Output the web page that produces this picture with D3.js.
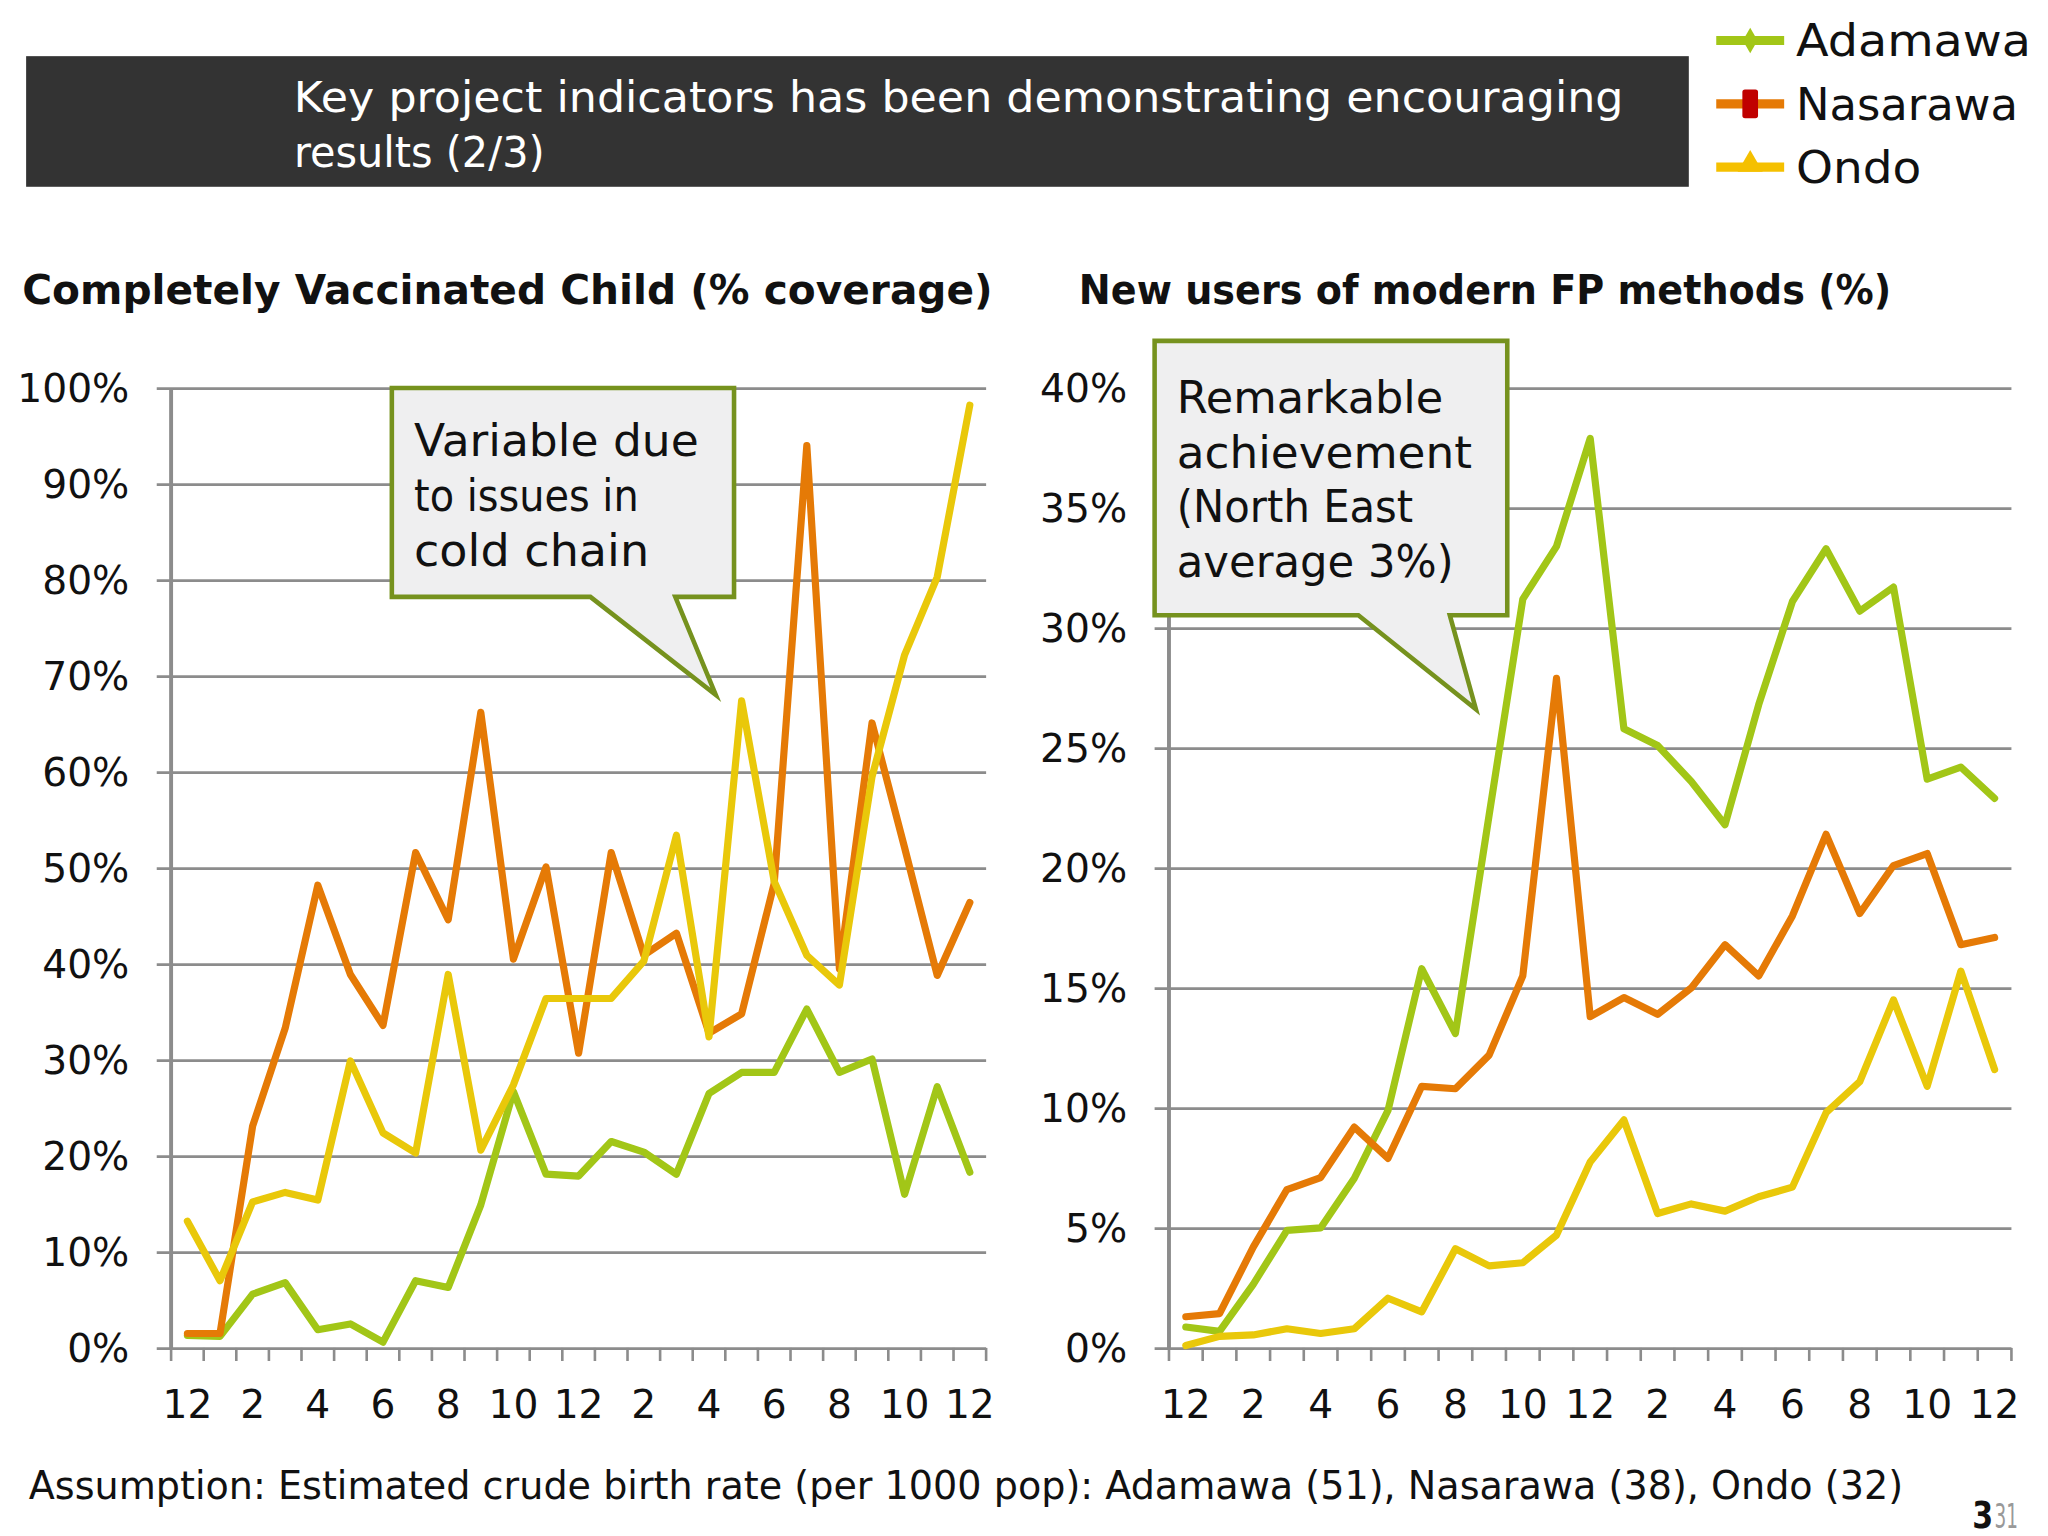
<!DOCTYPE html>
<html>
<head>
<meta charset="utf-8">
<script src="https://cdn.jsdelivr.net/npm/d3@7"></script>
<style>
  body { margin: 0; background: #fff; }
  svg { display: block; }
  text { font-family: "Century Gothic", "DejaVu Sans", sans-serif; }
</style>
</head>
<body>
<div id="chart"></div>
<script>
// month labels, Dec to Dec (25 months)
const months = ["12","1","2","3","4","5","6","7","8","9","10","11","12",
                "1","2","3","4","5","6","7","8","9","10","11","12"];
const shownTicks = [0,2,4,6,8,10,12,14,16,18,20,22,24];

const states = ["Adamawa", "Nasarawa", "Ondo"];
const stateColors = ["#a2c617", "#e57a06", "#e9c80a"];

// Completely Vaccinated Child (% coverage)
const vaccAdamawa = [1.3,1.2,5.6,6.8,1.9,2.5,0.6,7.0,6.3,14.9,26.7,18.1,17.9,
                     21.5,20.4,18.1,26.5,28.7,28.7,35.3,28.7,30.1,16.0,27.2,18.3];
const vaccNasarawa = [1.5,1.5,23.1,33.3,48.2,38.9,33.6,51.6,44.6,66.2,40.5,50.1,30.7,
                      51.6,40.9,43.2,32.8,34.8,48.4,94.0,39.5,65.1,52.1,38.8,46.4];
const vaccOndo = [13.2,7.0,15.2,16.2,15.4,29.9,22.4,20.3,38.9,20.6,27.4,36.4,36.4,
                  36.4,40.3,53.4,32.4,67.4,48.6,40.9,37.8,59.5,72.2,80.3,98.2];

// New users of modern FP methods (%)
const fpAdamawa = [0.87,0.69,2.65,4.9,5.0,7.07,9.9,15.8,13.1,22.2,31.2,33.4,37.9,
                   25.8,25.1,23.6,21.8,26.8,31.1,33.3,30.7,31.7,23.7,24.2,22.9];
const fpNasarawa = [1.3,1.43,4.2,6.6,7.1,9.2,7.9,10.9,10.8,12.2,15.5,27.9,13.8,
                    14.6,13.9,15.0,16.8,15.5,18.0,21.4,18.1,20.1,20.6,16.8,17.1];
const fpOndo = [0.1,0.48,0.54,0.8,0.6,0.8,2.07,1.5,4.13,3.42,3.55,4.7,7.75,
                9.5,5.6,6.0,5.7,6.3,6.7,9.8,11.1,14.5,10.9,15.7,11.6];

const vaccTicks = [0,10,20,30,40,50,60,70,80,90,100];
const fpTicks = [0,5,10,15,20,25,30,35,40];

const W = 1568, H = 1176;
const svg = d3.select("#chart").append("svg")
  .attr("width", 2048).attr("height", 1536)
  .attr("viewBox", `0 0 ${W} ${H}`);

svg.append("rect").attr("width", W).attr("height", H).attr("fill", "#fff");

// header bar
svg.append("rect").attr("x", 20).attr("y", 43).attr("width", 1273).attr("height", 100)
  .attr("fill", "#333333");
svg.append("text").attr("x", 225).attr("y", 86).attr("fill", "#fff")
  .attr("font-size", 33).attr("textLength", 1018).attr("lengthAdjust", "spacingAndGlyphs")
  .text("Key project indicators has been demonstrating encouraging");
svg.append("text").attr("x", 225).attr("y", 128).attr("fill", "#fff")
  .attr("font-size", 33).attr("textLength", 192).attr("lengthAdjust", "spacingAndGlyphs")
  .text("results (2/3)");

// legend
const legendWidths = [180, 170, 96];
const legend = svg.append("g");
states.forEach(function(s, i){
  let ly = 31 + i * 48.5;
  legend.append("line").attr("x1", 1314).attr("x2", 1366).attr("y1", ly).attr("y2", ly)
    .attr("stroke", i == 2 ? "#f5c000" : stateColors[i]).attr("stroke-width", 7);
  if (i == 0) {
    legend.append("path").attr("d", d3.symbol(d3.symbolDiamond, 110)())
      .attr("transform", `translate(1340,${ly})`).attr("fill", stateColors[0]);
  } else if (i == 1) {
    legend.append("rect").attr("x", 1334).attr("y", ly - 11).attr("width", 12).attr("height", 22)
      .attr("rx", 2).attr("fill", "#c00000");
  } else {
    legend.append("path").attr("d", d3.symbol(d3.symbolTriangle, 160)())
      .attr("transform", `translate(1340,${ly - 2})`).attr("fill", "#f5c000");
  }
  legend.append("text").attr("x", 1375).attr("y", ly + 12).attr("font-size", 34)
    .attr("fill", "#111").attr("textLength", legendWidths[i])
    .attr("lengthAdjust", "spacingAndGlyphs").text(s);
});

function drawChart(opts) {
  const g = svg.append("g");
  const x = d3.scaleBand().domain(d3.range(months.length)).range([opts.x0, opts.x1]);
  const y = d3.scaleLinear().domain([0, opts.max]).range([1032, 297]);

  g.append("text").attr("x", opts.titleX).attr("y", 233).attr("font-size", 31)
    .attr("font-weight", "bold").attr("fill", "#111")
    .attr("textLength", opts.titleW).attr("lengthAdjust", "spacingAndGlyphs")
    .text(opts.title);

  // gridlines + y labels
  const yAxis = g.append("g").attr("transform", `translate(${opts.x1},0)`)
    .call(d3.axisLeft(y).tickValues(opts.ticks).tickSize(opts.x1 - opts.x0 + 11)
      .tickPadding(21).tickFormat(d => d + "%"));
  yAxis.select(".domain").remove();
  yAxis.selectAll(".tick line").attr("stroke", "#8c8c8c").attr("stroke-width", 2);
  yAxis.selectAll(".tick text").attr("font-size", 30).attr("fill", "#111")
    .attr("font-family", "'Century Gothic','DejaVu Sans',sans-serif").attr("dy", "0.35em");

  // vertical axis line
  g.append("line").attr("x1", opts.x0).attr("x2", opts.x0).attr("y1", 297).attr("y2", 1032)
    .attr("stroke", "#8c8c8c").attr("stroke-width", 3);

  // minor ticks at category boundaries
  g.selectAll("line.mt").data(d3.range(months.length + 1)).join("line")
    .attr("class", "mt")
    .attr("x1", d => opts.x0 + d * x.step()).attr("x2", d => opts.x0 + d * x.step())
    .attr("y1", 1032).attr("y2", 1042)
    .attr("stroke", "#8c8c8c").attr("stroke-width", 2);

  // x labels
  const xAxis = g.append("g").attr("transform", "translate(0,1032)")
    .call(d3.axisBottom(x).tickValues(shownTicks).tickSize(0).tickPadding(32)
      .tickFormat(i => months[i]));
  xAxis.select(".domain").remove();
  xAxis.selectAll(".tick text").attr("font-size", 30).attr("fill", "#111")
    .attr("font-family", "'Century Gothic','DejaVu Sans',sans-serif");

  const line = d3.line()
    .x((d, i) => x(i) + x.bandwidth() / 2)
    .y(d => y(d));

  opts.series.forEach(function(s, i){
    g.append("path").datum(s).attr("d", line).attr("fill", "none")
      .attr("stroke", stateColors[i]).attr("stroke-width", 5.5)
      .attr("stroke-linejoin", "round").attr("stroke-linecap", "round");
  });

  // callout
  const c = opts.callout;
  const pts = [[c.x, c.y], [c.x + c.w, c.y], [c.x + c.w, c.y + c.h], [c.p2, c.y + c.h],
               [c.tip[0], c.tip[1]], [c.p1, c.y + c.h], [c.x, c.y + c.h]];
  g.append("path").attr("d", d3.line()(pts) + "Z")
    .attr("fill", "#efeff0").attr("stroke", "#76921e").attr("stroke-width", 3.5)
    .attr("stroke-linejoin", "miter");
  c.lines.forEach(function(t, k){
    g.append("text").attr("x", c.x + 17).attr("y", c.y + c.firstBase + k * 42)
      .attr("font-size", 34).attr("fill", "#111")
      .attr("textLength", c.widths[k]).attr("lengthAdjust", "spacingAndGlyphs").text(t);
  });
}

drawChart({
  x0: 131, x1: 755, max: 100, ticks: vaccTicks,
  title: "Completely Vaccinated Child (% coverage)", titleX: 17, titleW: 743,
  series: [vaccAdamawa, vaccNasarawa, vaccOndo],
  callout: { x: 300, y: 297, w: 262, h: 160, p1: 452, p2: 517, tip: [548, 532],
             firstBase: 52, lines: ["Variable due", "to issues in", "cold chain"],
             widths: [218, 172, 180] }
});

drawChart({
  x0: 895, x1: 1540, max: 40, ticks: fpTicks,
  title: "New users of modern FP methods (%)", titleX: 826, titleW: 622,
  series: [fpAdamawa, fpNasarawa, fpOndo],
  callout: { x: 884, y: 261, w: 270, h: 210, p1: 1040, p2: 1110, tip: [1130, 543],
             firstBase: 55, lines: ["Remarkable", "achievement", "(North East", "average 3%)"],
             widths: [204, 226, 181, 212] }
});

// footer
svg.append("text").attr("x", 22).attr("y", 1148).attr("font-size", 30).attr("fill", "#111")
  .attr("textLength", 1435).attr("lengthAdjust", "spacingAndGlyphs")
  .text("Assumption: Estimated crude birth rate (per 1000 pop): Adamawa (51), Nasarawa (38), Ondo (32)");
// page number
svg.append("text").attr("x", 1510).attr("y", 1170).attr("font-size", 28).attr("fill", "#111")
  .attr("font-weight", "bold").attr("textLength", 16).attr("lengthAdjust", "spacingAndGlyphs")
  .text("3");
svg.append("text").attr("x", 1527).attr("y", 1170).attr("font-size", 26).attr("fill", "#999")
  .attr("textLength", 18).attr("lengthAdjust", "spacingAndGlyphs").text("31");
</script>
</body>
</html>
